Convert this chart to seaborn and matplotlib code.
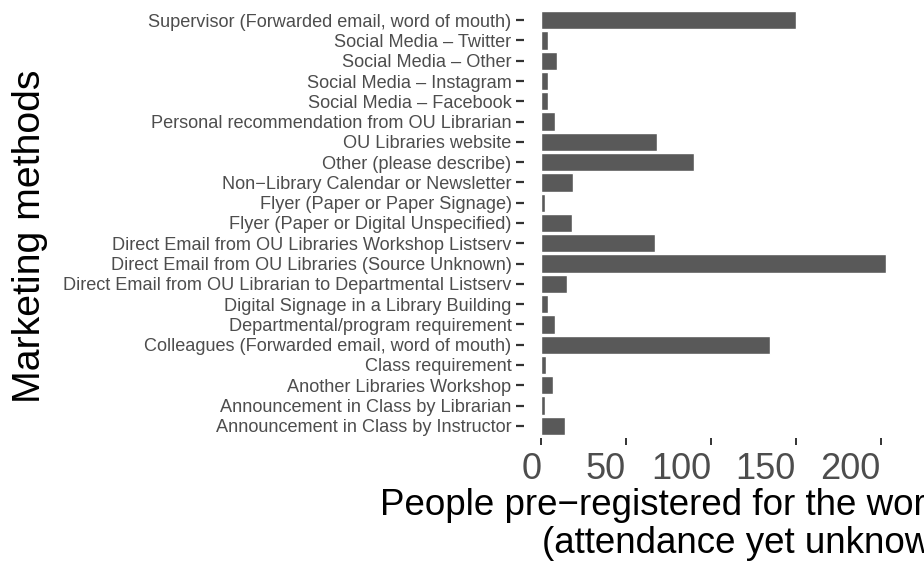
import numpy as np
import pandas as pd
import matplotlib
matplotlib.use("Agg")
import matplotlib.pyplot as plt
import seaborn as sns

# marketing methods, top to bottom as shown
methods = [
    "Supervisor (Forwarded email, word of mouth)",
    "Social Media \u2013 Twitter",
    "Social Media \u2013 Other",
    "Social Media \u2013 Instagram",
    "Social Media \u2013 Facebook",
    "Personal recommendation from OU Librarian",
    "OU Libraries website",
    "Other (please describe)",
    "Non\u2212Library Calendar or Newsletter",
    "Flyer (Paper or Paper Signage)",
    "Flyer (Paper or Digital Unspecified)",
    "Direct Email from OU Libraries Workshop Listserv",
    "Direct Email from OU Libraries (Source Unknown)",
    "Direct Email from OU Librarian to Departmental Listserv",
    "Digital Signage in a Library Building",
    "Departmental/program requirement",
    "Colleagues (Forwarded email, word of mouth)",
    "Class requirement",
    "Another Libraries Workshop",
    "Announcement in Class by Librarian",
    "Announcement in Class by Instructor",
]
people = [150, 4, 9, 4, 4, 8, 68, 90, 19, 2, 18, 67, 203, 15, 4, 8, 135, 3, 7, 2, 14]
x_ticks = [0, 50, 100, 150, 200]

df = pd.DataFrame({"method": methods, "people": people})

sns.set_style("white")
plt.rcParams["font.family"] = ["Liberation Sans", "DejaVu Sans"]

fig = plt.figure(figsize=(9.24, 5.66), dpi=100)
W, H = 924, 566
ax = fig.add_axes([524 / W, 1 - 438 / H, (903 - 524) / W, (438 - 8) / H])

sns.barplot(data=df, x="people", y="method", order=methods, orient="h",
            color="#595959", saturation=1, width=0.9, ax=ax)

ax.set_xlim(-10.15, 213.15)
ax.set_ylim(len(methods) - 0.4, -0.6)
ax.set_xticks(x_ticks)
ax.set_xticklabels([str(t) for t in x_ticks], ha="right")
for s in ax.spines.values():
    s.set_visible(False)

ax.tick_params(axis="y", left=True, length=6, width=1.6, color="#333333", pad=3,
               labelsize=13.1, labelcolor="#4d4d4d")
ax.tick_params(axis="x", bottom=True, length=5, width=1.4, color="#333333", pad=5,
               labelsize=26, labelcolor="#4d4d4d")

ax.set_xlabel("")
ax.set_ylabel("Marketing methods", fontsize=28.3, color="black")
ax.yaxis.set_label_coords(-1.255, 0.47)

# the axis title runs off the right edge of the image
fig.text(380 / W, 1 - 515 / H, "People pre\u2212registered for the workshop",
         fontsize=26.5, color="black", ha="left", va="baseline")
fig.text(542 / W, 1 - 553 / H, "(attendance yet unknown)",
         fontsize=26.5, color="black", ha="left", va="baseline")

fig.savefig("out.png", dpi=100)
